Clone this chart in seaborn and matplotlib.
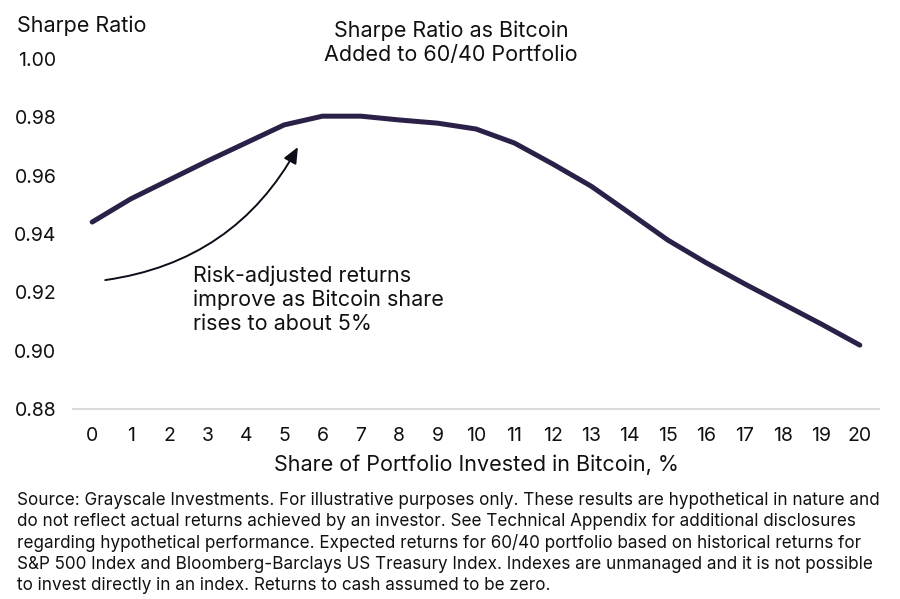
import matplotlib
matplotlib.use("Agg")
import matplotlib.pyplot as plt
import seaborn as sns
import pandas as pd

bitcoin_share = list(range(0, 21))
sharpe_ratio = [0.9441, 0.9520, 0.9585, 0.9650, 0.9712, 0.9774, 0.9804, 0.9804,
                0.9791, 0.9780, 0.9760, 0.9712, 0.9640, 0.9564, 0.9472, 0.9379,
                0.9301, 0.9229, 0.9160, 0.9091, 0.9019]
y_ticks = [0.88, 0.90, 0.92, 0.94, 0.96, 0.98, 1.00]
y_tick_labels = ["0.88", "0.90", "0.92", "0.94", "0.96", "0.98", "1.00"]

df = pd.DataFrame({"share": bitcoin_share, "sharpe": sharpe_ratio})

sns.set_theme(style="white")
plt.rcParams["font.family"] = ["Inter", "DejaVu Sans"]

fig = plt.figure(figsize=(9, 5.99), dpi=100)
ax = fig.add_axes([73 / 900, 1 - 409 / 599, (879 - 73) / 900, (409 - 59) / 599])

sns.lineplot(data=df, x="share", y="sharpe", ax=ax, color="#2b2148",
             linewidth=3.6, solid_capstyle="round", solid_joinstyle="round")

ax.set_xlim(-0.5, 20.5)
ax.set_ylim(0.88, 1.00)
ax.set_xticks(bitcoin_share)
ax.set_xticklabels([str(v) for v in bitcoin_share])
ax.set_yticks(y_ticks)
ax.set_yticklabels(y_tick_labels)
ax.tick_params(axis="both", length=0, labelsize=14, colors="#111111")
ax.tick_params(axis="x", pad=13)
ax.tick_params(axis="y", pad=12)
for side in ["left", "right", "top"]:
    ax.spines[side].set_visible(False)
ax.spines["bottom"].set_color("#d9d9d9")
ax.spines["bottom"].set_linewidth(1.5)
ax.set_ylabel("")
ax.set_xlabel("Share of Portfolio Invested in Bitcoin, %", fontsize=15.5,
              color="#111111", labelpad=7)

fig.text(17 / 900, 1 - 26 / 599, "Sharpe Ratio", fontsize=15.5, color="#111111",
         ha="left", va="center")
fig.text(451 / 900, 1 - 43 / 599, "Sharpe Ratio as Bitcoin\nAdded to 60/40 Portfolio",
         fontsize=15.5, color="#111111", ha="center", va="center", linespacing=1.25)

ax.annotate("", xy=(5.36, 0.9698), xytext=(0.34, 0.9242),
            arrowprops=dict(arrowstyle="-|>,head_length=0.8,head_width=0.35",
                            color="#0d0d1a", lw=1.4, shrinkA=0, shrinkB=0,
                            connectionstyle="arc3,rad=0.25"))
ax.text(2.62, 0.9174,
        "Risk-adjusted returns\nimprove as Bitcoin share\nrises to about 5%",
        fontsize=15.5, color="#111111", ha="left", va="center", linespacing=1.23)

footnote = ("Source: Grayscale Investments. For illustrative purposes only. These results are hypothetical in nature and\n"
            "do not reflect actual returns achieved by an investor. See Technical Appendix for additional disclosures\n"
            "regarding hypothetical performance. Expected returns for 60/40 portfolio based on historical returns for\n"
            "S&P 500 Index and Bloomberg-Barclays US Treasury Index. Indexes are unmanaged and it is not possible\n"
            "to invest directly in an index. Returns to cash assumed to be zero.")
fig.text(17 / 900, 1 - 543 / 599, footnote, fontsize=12.3, color="#111111",
         ha="left", va="center", linespacing=1.29)

fig.savefig("out.png", dpi=100)
